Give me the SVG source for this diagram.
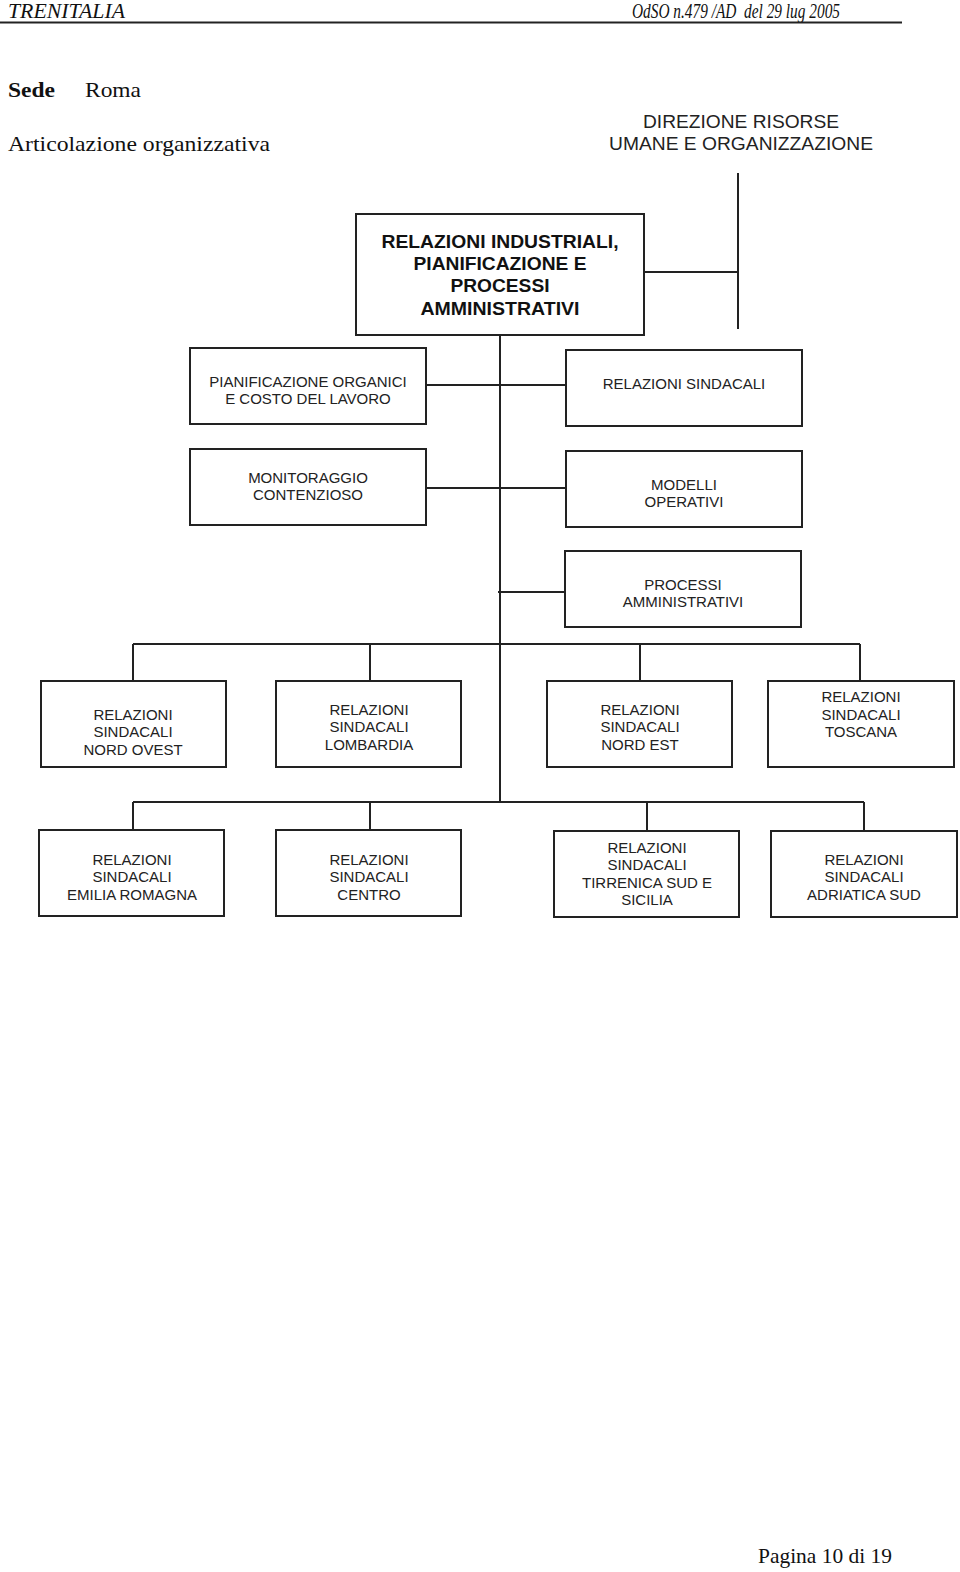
<svg xmlns="http://www.w3.org/2000/svg" width="960" height="1572" viewBox="0 0 960 1572">
<style>
.hdr{font-family:"Liberation Serif",serif;font-style:italic;font-size:21px;fill:#111}
.ser{font-family:"Liberation Serif",serif;font-size:22px;fill:#111}
.box{fill:#fff;stroke:#222;stroke-width:2}
.t{font-family:"Liberation Sans",Arial,sans-serif;font-size:15px;fill:#222;text-anchor:middle}
.tb{font-family:"Liberation Sans",Arial,sans-serif;font-size:18px;font-weight:bold;fill:#111;text-anchor:middle}
.td{font-family:"Liberation Sans",Arial,sans-serif;font-size:18px;fill:#222;text-anchor:middle}
.ln{stroke:#222;stroke-width:2;fill:none}
</style>
<rect width="960" height="1572" fill="#fff"/>
<g id="header">
<text class="hdr" x="8" y="18" textLength="117" lengthAdjust="spacingAndGlyphs">TRENITALIA</text>
<text class="hdr" x="632" y="18" textLength="208" lengthAdjust="spacingAndGlyphs" xml:space="preserve">OdSO n.479 /AD  del 29 lug 2005</text>
<line x1="0" y1="22.5" x2="902" y2="22.5" stroke="#222" stroke-width="2"/>
<text class="ser" x="8" y="97" font-weight="bold" textLength="47" lengthAdjust="spacingAndGlyphs">Sede</text>
<text class="ser" x="85" y="97" textLength="56" lengthAdjust="spacingAndGlyphs">Roma</text>
<text class="ser" x="8" y="151" textLength="262" lengthAdjust="spacingAndGlyphs">Articolazione organizzativa</text>
<text class="ser" x="758" y="1563" textLength="134" lengthAdjust="spacingAndGlyphs">Pagina 10 di 19</text>
</g>
<g id="n-direzione">
<text class="td" x="741" y="128" textLength="196" lengthAdjust="spacingAndGlyphs">DIREZIONE RISORSE</text>
<text class="td" x="741" y="150" textLength="264" lengthAdjust="spacingAndGlyphs">UMANE E ORGANIZZAZIONE</text>
</g>
<g id="connectors">
<path class="ln" d="M738 173V329M644 272H738"/>
<path class="ln" d="M500 335V801"/>
<path class="ln" d="M426 385H566M426 488H566M498 592H565"/>
<path class="ln" d="M133 644H860M133 644V681M370 644V681M640 644V681M860 644V681"/>
<path class="ln" d="M133 802H864M133 802V830M370 802V830M647 802V831M864 802V831"/>
</g>
<g id="n-main">
<rect class="box" x="356" y="214" width="288" height="121"/>
<text class="tb" x="500" y="248" textLength="237" lengthAdjust="spacingAndGlyphs">RELAZIONI INDUSTRIALI,</text>
<text class="tb" x="500" y="270" textLength="173" lengthAdjust="spacingAndGlyphs">PIANIFICAZIONE E</text>
<text class="tb" x="500" y="292" textLength="99" lengthAdjust="spacingAndGlyphs">PROCESSI</text>
<text class="tb" x="500" y="315" textLength="159" lengthAdjust="spacingAndGlyphs">AMMINISTRATIVI</text>
</g>
<g id="n-pianificazione">
<rect class="box" x="190" y="348" width="236" height="76"/>
<text class="t" x="308" y="387">PIANIFICAZIONE ORGANICI</text>
<text class="t" x="308" y="404">E COSTO DEL LAVORO</text>
</g>
<g id="n-relsind">
<rect class="box" x="566" y="350" width="236" height="76"/>
<text class="t" x="684" y="389">RELAZIONI SINDACALI</text>
</g>
<g id="n-monitoraggio">
<rect class="box" x="190" y="449" width="236" height="76"/>
<text class="t" x="308" y="483">MONITORAGGIO</text>
<text class="t" x="308" y="500">CONTENZIOSO</text>
</g>
<g id="n-modelli">
<rect class="box" x="566" y="451" width="236" height="76"/>
<text class="t" x="684" y="490">MODELLI</text>
<text class="t" x="684" y="507">OPERATIVI</text>
</g>
<g id="n-processi">
<rect class="box" x="565" y="551" width="236" height="76"/>
<text class="t" x="683" y="590">PROCESSI</text>
<text class="t" x="683" y="607">AMMINISTRATIVI</text>
</g>
<g id="n-nordovest">
<rect class="box" x="41" y="681" width="185" height="86"/>
<text class="t" x="133" y="720">RELAZIONI</text>
<text class="t" x="133" y="737">SINDACALI</text>
<text class="t" x="133" y="755">NORD OVEST</text>
</g>
<g id="n-lombardia">
<rect class="box" x="276" y="681" width="185" height="86"/>
<text class="t" x="369" y="715">RELAZIONI</text>
<text class="t" x="369" y="732">SINDACALI</text>
<text class="t" x="369" y="750">LOMBARDIA</text>
</g>
<g id="n-nordest">
<rect class="box" x="547" y="681" width="185" height="86"/>
<text class="t" x="640" y="715">RELAZIONI</text>
<text class="t" x="640" y="732">SINDACALI</text>
<text class="t" x="640" y="750">NORD EST</text>
</g>
<g id="n-toscana">
<rect class="box" x="768" y="681" width="186" height="86"/>
<text class="t" x="861" y="702">RELAZIONI</text>
<text class="t" x="861" y="720">SINDACALI</text>
<text class="t" x="861" y="737">TOSCANA</text>
</g>
<g id="n-emilia">
<rect class="box" x="39" y="830" width="185" height="86"/>
<text class="t" x="132" y="865">RELAZIONI</text>
<text class="t" x="132" y="882">SINDACALI</text>
<text class="t" x="132" y="900">EMILIA ROMAGNA</text>
</g>
<g id="n-centro">
<rect class="box" x="276" y="830" width="185" height="86"/>
<text class="t" x="369" y="865">RELAZIONI</text>
<text class="t" x="369" y="882">SINDACALI</text>
<text class="t" x="369" y="900">CENTRO</text>
</g>
<g id="n-tirrenica">
<rect class="box" x="554" y="831" width="185" height="86"/>
<text class="t" x="647" y="853">RELAZIONI</text>
<text class="t" x="647" y="870">SINDACALI</text>
<text class="t" x="647" y="888">TIRRENICA SUD E</text>
<text class="t" x="647" y="905">SICILIA</text>
</g>
<g id="n-adriatica">
<rect class="box" x="771" y="831" width="186" height="86"/>
<text class="t" x="864" y="865">RELAZIONI</text>
<text class="t" x="864" y="882">SINDACALI</text>
<text class="t" x="864" y="900">ADRIATICA SUD</text>
</g>
</svg>
